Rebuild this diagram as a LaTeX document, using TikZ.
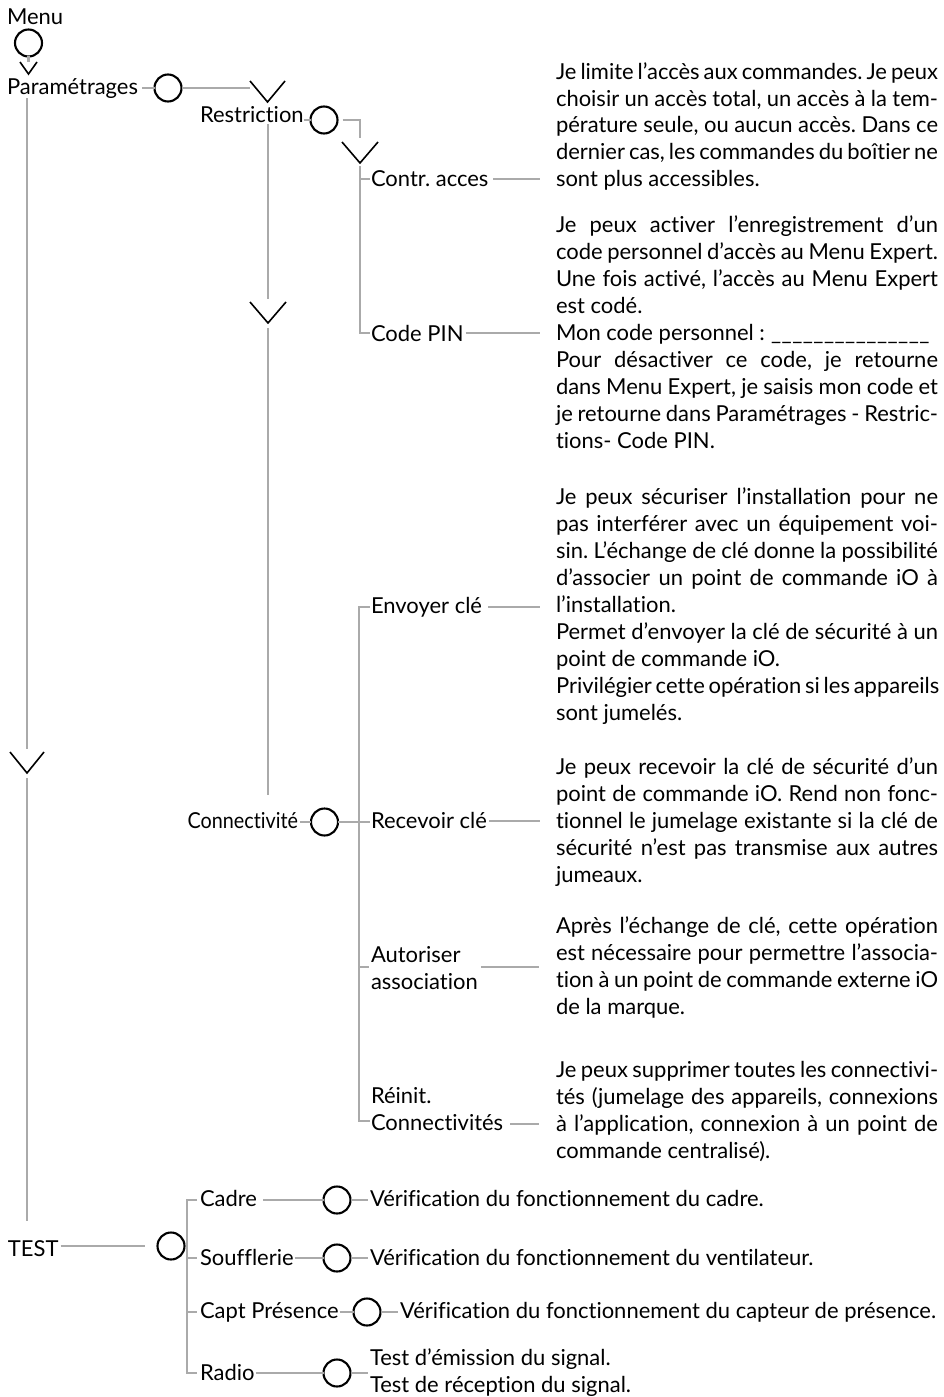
\documentclass[tikz,border=0pt]{standalone}
\usepackage{graphicx}
\usepackage{fontspec}
\setmainfont{Lato}[Ligatures={NoCommon,NoRare}]
\definecolor{lg}{RGB}{170,170,170}
\newlength\calw
\begin{document}
\frenchspacing
\settowidth\calw{\fontsize{10pt}{12pt}\selectfont Vérification du fonctionnement du capteur de présence.}
\pgfmathsetmacro\fs{10*536/\calw}
\newcommand\mainsize{\fontsize{\fs pt}{27pt}\selectfont}
\newcommand\jl[1]{\hbox to 382pt{\strut #1}}
\newcommand\el[1]{\hbox{\strut #1}}
\begin{tikzpicture}[x=1pt,y=-1pt,
 every node/.style={font=\mainsize, inner sep=0pt, outer sep=0pt},
 lbl/.style={anchor=base west},
 gl/.style={draw=lg, line width=2.8pt},
 circ/.style={circle, draw=black, line width=2.1pt, minimum size=27pt, inner sep=0pt},
 chv/.style={draw=black, line width=1.6pt, line join=miter},
]
\useasboundingbox (0,0) rectangle (944,1397);

% ---- Menu
\node[lbl] (menu) at (7,25) {Menu};
\node[circ] (c0) at (28.5,43) {};
\coordinate (v0t) at (28.5,62);
\draw[gl] (c0.south) -- (v0t);
\coordinate (v0) at (28.5,74);
\draw[chv] (v0) ++(-8.5,-12) -- (v0) -- ++(8.5,-12);

% ---- Paramétrages
\node[lbl] (param) at (7,94) {Paramétrages};
\node[circ] (c1) at (168,88) {};
\draw[gl] ([xshift=4pt]param.east |- c1) -- (c1.west);
\coordinate (e1) at (250,88);
\draw[gl] (c1.east) -- (e1);
\coordinate (v1) at (267.5,102);
\draw[chv] (v1) ++(-17.5,-21) -- (v1) -- ++(17.5,-21);
\coordinate (pv0) at (27,98);
\coordinate (pv1) at (27,749);
\coordinate (v2) at (27,773);
\coordinate (pv2) at (27,778);
\coordinate (pv3) at (27,1221);
\draw[gl] (pv0) -- (pv1);
\draw[chv] (v2) ++(-17,-21) -- (v2) -- ++(17,-21);
\draw[gl] (pv2) -- (pv3);

% ---- Restriction
\node[lbl] (restr) at (200,122) {Restriction};
\node[circ] (c2) at (324,120) {};
\draw[gl] (restr.east |- c2) -- (c2.west);
\coordinate (rk) at (360,120);
\coordinate (rk2) at (360,138);
\draw[gl] ([xshift=5pt]c2.east) -- (rk) -- (rk2);
\coordinate (v3) at (360,163);
\draw[chv] (v3) ++(-18,-21) -- (v3) -- ++(18,-21);
\coordinate (rv0) at (360,166);
\coordinate (rv1) at (360,333);
\coordinate (rv2) at (369.5,333);
\coordinate (rt0) at (360,179);
\coordinate (rt1) at (369.5,179);
\draw[gl] (rv0) -- (rv1) -- (rv2);
\draw[gl] (rt0) -- (rt1);
% Restriction vertical
\coordinate (sv0) at (268,124);
\coordinate (sv1) at (268,299);
\coordinate (v4) at (268,323);
\coordinate (sv2) at (268,328);
\coordinate (sv3) at (268,795);
\draw[gl] (sv0) -- (sv1);
\draw[chv] (v4) ++(-18,-21) -- (v4) -- ++(18,-21);
\draw[gl] (sv2) -- (sv3);

\node[lbl] (contr) at (371,186) {Contr. acces};
\coordinate (contrR) at (540,179);
\draw[gl] ([xshift=5pt]contr.east |- contrR) -- (contrR);
\node[lbl] (pin) at (371,341) {Code PIN};
\coordinate (pinR) at (540,333);
\draw[gl] ([xshift=2pt]pin.east |- pinR) -- (pinR);

% ---- Connectivité
\node[anchor=base east] (conn) at (298,828) {\scalebox{0.9}[1]{Connectivité}};
\node[circ] (c3) at (324.5,822) {};
\draw[gl] ([xshift=2pt]conn.east |- c3) -- (c3.west);
\coordinate (cr) at (370,822);
\draw[gl] (c3.east) -- (cr);
\coordinate (cv0) at (370,607);
\coordinate (cv1) at (359,607);
\coordinate (cv2) at (359,1121);
\coordinate (cv3) at (370,1121);
\draw[gl] (cv0) -- (cv1) -- (cv2) -- (cv3);
\coordinate (ct0) at (359,967);
\coordinate (ct1) at (369,967);
\draw[gl] (ct0) -- (ct1);

\node[lbl] (env) at (371,613) {Envoyer clé};
\coordinate (envR) at (540,607);
\draw[gl] ([xshift=6pt]env.east |- envR) -- (envR);
\node[lbl] (rec) at (371,828) {Recevoir clé};
\coordinate (recR) at (540,821);
\draw[gl] ([xshift=2pt]rec.east |- recR) -- (recR);
\node[lbl] (aut) at (371,962) {\vtop{\el{Autoriser}\el{association}}};
\coordinate (autR) at (539,967);
\draw[gl] ([xshift=3pt]aut.east |- autR) -- (autR);
\node[lbl] (rei) at (371,1103) {\vtop{\el{Réinit.}\el{Connectivités}}};
\coordinate (reiR) at (539,1124);
\draw[gl] ([xshift=7pt]rei.east |- reiR) -- (reiR);

% ---- paragraphs
\node[lbl] (p1) at (556,79) {\vtop{%
\jl{Je limite l’accès aux commandes. Je peux}
\jl{choisir un accès total, un accès à la tem-}
\jl{pérature seule, ou aucun accès. Dans ce}
\jl{dernier cas, les commandes du boîtier ne}
\el{sont plus accessibles.}}};
\node[lbl] (p2) at (556,232) {\vtop{%
\jl{Je peux activer l’enregistrement d’un}
\jl{code personnel d’accès au Menu Expert.}
\jl{Une fois activé, l’accès au Menu Expert}
\el{est codé.}
\jl{Mon code personnel : \xleaders\hbox{\_}\hfill\hspace*{8pt}}
\jl{Pour désactiver ce code, je retourne}
\jl{dans Menu Expert, je saisis mon code et}
\jl{je retourne dans Paramétrages - Restric-}
\el{tions- Code PIN.}}};
\node[lbl] (p3) at (556,504) {\vtop{%
\jl{Je peux sécuriser l’installation pour ne}
\jl{pas interférer avec un équipement voi-}
\jl{sin. L’échange de clé donne la possibilité}
\jl{d’associer un point de commande iO à}
\el{l’installation.}
\jl{Permet d’envoyer la clé de sécurité à un}
\el{point de commande iO.}
\jl{Privilégier cette opération si les appareils}
\el{sont jumelés.}}};
\node[lbl] (p4) at (556,774) {\vtop{%
\jl{Je peux recevoir la clé de sécurité d’un}
\jl{point de commande iO. Rend non fonc-}
\jl{tionnel le jumelage existante si la clé de}
\jl{sécurité n’est pas transmise aux autres}
\el{jumeaux.}}};
\node[lbl] (p5) at (556,933) {\vtop{%
\jl{Après l’échange de clé, cette opération}
\jl{est nécessaire pour permettre l’associa-}
\jl{tion à un point de commande externe iO}
\el{de la marque.}}};
\node[lbl] (p6) at (556,1077) {\vtop{%
\jl{Je peux supprimer toutes les connectivi-}
\jl{tés (jumelage des appareils, connexions}
\jl{à l’application, connexion à un point de}
\el{commande centralisé).}}};

% ---- TEST
\node[lbl] (test) at (8,1256) {TEST};
\coordinate (testR) at (145,1246);
\draw[gl] ([xshift=2pt]test.east |- testR) -- (testR);
\node[circ] (c4) at (171,1246) {};
\coordinate (tv0) at (197,1200);
\coordinate (tv1) at (187,1200);
\coordinate (tv2) at (187,1373);
\coordinate (tv3) at (197,1373);
\draw[gl] (tv0) -- (tv1) -- (tv2) -- (tv3);
\coordinate (tt0) at (187,1258);
\coordinate (tt1) at (197,1258);
\coordinate (tt2) at (187,1312);
\coordinate (tt3) at (197,1312);
\draw[gl] (tt0) -- (tt1);
\draw[gl] (tt2) -- (tt3);

\node[lbl] (cadre) at (200,1206) {Cadre};
\node[circ] (c5) at (337,1200) {};
\draw[gl] ([xshift=6pt]cadre.east |- c5) -- (c5.west);
\node[lbl] (vcad) at (370,1206) {Vérification du fonctionnement du cadre.};
\draw[gl] (c5.east) -- ([xshift=-2pt]vcad.west |- c5);

\node[lbl] (souf) at (200,1265) {Soufflerie};
\node[circ] (c6) at (337,1258) {};
\draw[gl] ([xshift=1pt]souf.east |- c6) -- (c6.west);
\node[lbl] (vsouf) at (370,1265) {Vérification du fonctionnement du ventilateur.};
\draw[gl] (c6.east) -- ([xshift=-2pt]vsouf.west |- c6);

\node[lbl] (capt) at (200,1318) {Capt Présence};
\node[circ] (c7) at (367,1312) {};
\draw[gl] ([xshift=1pt]capt.east |- c7) -- (c7.west);
\node[lbl] (vcapt) at (400,1318) {Vérification du fonctionnement du capteur de présence.};
\draw[gl] (c7.east) -- ([xshift=-2pt]vcapt.west |- c7);

\node[lbl] (radio) at (200,1380) {Radio};
\node[circ] (c8) at (337,1373) {};
\draw[gl] ([xshift=1pt]radio.east |- c8) -- (c8.west);
\node[lbl] (vradio) at (370,1365) {\vtop{\el{Test d’émission du signal.}\el{Test de réception du signal.}}};
\coordinate (radR) at (368,1373);
\draw[gl] (c8.east) -- (radR);
\end{tikzpicture}
\end{document}
